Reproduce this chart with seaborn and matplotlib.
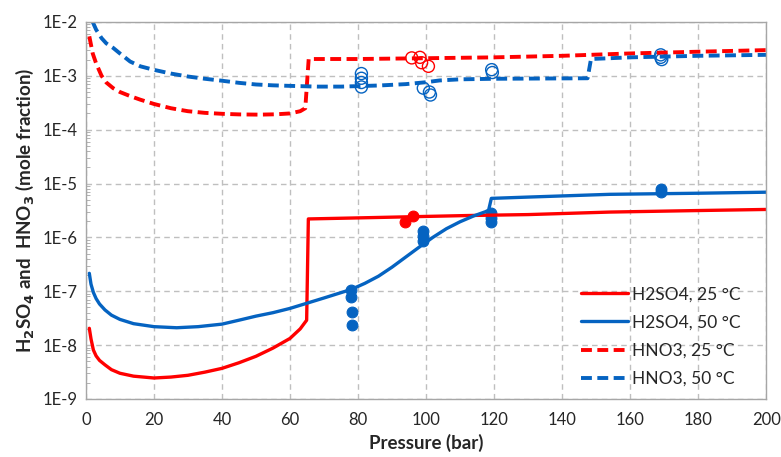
import math
import seaborn as sns
import matplotlib.pyplot as plt
from matplotlib.ticker import LogLocator, FixedLocator, FuncFormatter, NullFormatter

# model curves (pressure in bar, mole fraction)
h2so4_25_p = [1, 1.5, 2.2, 3, 4, 5.6, 7.5, 10, 14, 20, 25, 30, 35, 40, 45, 50, 55, 60, 63, 64.9,
              65.4, 80, 100, 113, 130, 154, 180, 200]
h2so4_25_y = [2.05e-8, 1.3e-8, 8.1e-9, 6.3e-9, 5.2e-9, 4.3e-9, 3.5e-9, 3.0e-9, 2.65e-9, 2.45e-9,
              2.55e-9, 2.75e-9, 3.15e-9, 3.7e-9, 4.7e-9, 6.2e-9, 8.8e-9, 1.33e-8, 2.0e-8, 2.9e-8,
              2.2e-6, 2.3e-6, 2.45e-6, 2.55e-6, 2.65e-6, 2.95e-6, 3.15e-6, 3.3e-6]

h2so4_50_p = [1, 1.5, 2.2, 3, 4, 5.6, 7.5, 10, 14, 20, 26.7, 33, 40, 45, 50, 55, 60, 65, 70, 74,
              78, 82, 86, 90, 94, 98, 102, 106, 110, 114, 117.5, 118.4, 119.2, 130, 154, 180, 200]
h2so4_50_y = [2.15e-7, 1.35e-7, 9.5e-8, 7.3e-8, 5.8e-8, 4.5e-8, 3.6e-8, 3.0e-8, 2.5e-8, 2.2e-8,
              2.1e-8, 2.2e-8, 2.45e-8, 2.9e-8, 3.45e-8, 4.0e-8, 4.8e-8, 6.0e-8, 7.5e-8, 9.0e-8,
              1.08e-7, 1.4e-7, 1.9e-7, 2.8e-7, 4.3e-7, 6.6e-7, 1.0e-6, 1.45e-6, 1.95e-6, 2.5e-6,
              3.0e-6, 3.2e-6, 5.3e-6, 5.6e-6, 6.3e-6, 6.6e-6, 6.9e-6]

hno3_25_p = [1, 2, 3, 4.6, 6, 8, 10, 13, 16, 20, 25, 30, 35, 40, 45, 51, 56, 60, 63, 64.5, 65.5,
             80, 100, 120, 140, 160, 180, 200]
hno3_25_y = [5.4e-3, 2.6e-3, 1.7e-3, 1.0e-3, 7.5e-4, 5.9e-4, 5.0e-4, 4.2e-4, 3.6e-4, 3.0e-4,
             2.5e-4, 2.2e-4, 2.05e-4, 1.97e-4, 1.92e-4, 1.9e-4, 1.93e-4, 2.0e-4, 2.2e-4, 2.5e-4,
             2.05e-3, 2.05e-3, 2.12e-3, 2.2e-3, 2.35e-3, 2.6e-3, 2.8e-3, 3.0e-3]

hno3_50_p = [2, 3, 4.6, 6, 8, 10, 13, 16, 20, 25, 30, 35, 40, 45, 50, 55, 60, 68, 75, 86, 94, 100,
             104, 110, 120, 147.5, 148.5, 160, 180, 200]
hno3_50_y = [1.0e-2, 7.2e-3, 5.0e-3, 4.0e-3, 3.3e-3, 2.6e-3, 1.84e-3, 1.5e-3, 1.29e-3, 1.1e-3,
             9.7e-4, 8.8e-4, 8.1e-4, 7.4e-4, 6.9e-4, 6.65e-4, 6.5e-4, 6.3e-4, 6.3e-4, 6.6e-4,
             7.0e-4, 7.6e-4, 8.2e-4, 8.6e-4, 8.8e-4, 9.0e-4, 2.05e-3, 2.2e-3, 2.35e-3, 2.45e-3]

# experimental points
exp_h2so4_25_p = [93.8, 96.2]
exp_h2so4_25_y = [1.95e-6, 2.45e-6]
exp_h2so4_50_p = [78, 78, 78.2, 78.3, 99, 99, 99.2, 119, 119, 119.2, 169, 169]
exp_h2so4_50_y = [1.05e-7, 7.8e-8, 4.1e-8, 2.4e-8, 1.3e-6, 1.05e-6, 8.5e-7, 2.8e-6, 2.3e-6, 1.9e-6,
                  7.0e-6, 8.0e-6]
exp_hno3_25_p = [95.8, 98.2, 98.7, 100.7]
exp_hno3_25_y = [2.15e-3, 2.2e-3, 1.75e-3, 1.5e-3]
exp_hno3_50_p = [81, 81, 81, 81, 99.2, 101, 101.3, 119.3, 119.5, 169, 169.3, 169]
exp_hno3_50_y = [1.1e-3, 9.0e-4, 7.5e-4, 6.2e-4, 5.9e-4, 5.0e-4, 4.4e-4, 1.3e-3, 1.15e-3, 2.45e-3,
                 2.0e-3, 2.2e-3]

RED = '#FF0000'
BLUE = '#0563C1'

sns.set_style('white')
plt.rcParams['font.family'] = ['Lato', 'DejaVu Sans']

fig = plt.figure(figsize=(7.81, 4.57), dpi=100)
ax = fig.add_axes([0.110, 0.127, 0.871, 0.825])

sns.lineplot(x=h2so4_25_p, y=h2so4_25_y, color=RED, lw=2.4, estimator=None,
             label='H2SO4, 25 °C', ax=ax)
sns.lineplot(x=h2so4_50_p, y=h2so4_50_y, color=BLUE, lw=2.4, estimator=None,
             label='H2SO4, 50 °C', ax=ax)
sns.lineplot(x=hno3_25_p, y=hno3_25_y, color=RED, lw=2.8, estimator=None,
             label='HNO3, 25 °C', ax=ax)
sns.lineplot(x=hno3_50_p, y=hno3_50_y, color=BLUE, lw=2.8, estimator=None,
             label='HNO3, 50 °C', ax=ax)
ax.lines[2].set_dashes([2.8, 1.4])
ax.lines[3].set_dashes([2.8, 1.4])

sns.scatterplot(x=exp_h2so4_25_p, y=exp_h2so4_25_y, color=RED, s=60, edgecolor=RED,
                linewidth=0.8, legend=False, ax=ax)
sns.scatterplot(x=exp_h2so4_50_p, y=exp_h2so4_50_y, color=BLUE, s=60, edgecolor=BLUE,
                linewidth=0.8, legend=False, ax=ax)
sns.scatterplot(x=exp_hno3_25_p, y=exp_hno3_25_y, facecolor='none', edgecolor=RED, s=75,
                linewidth=1.0, legend=False, ax=ax)
sns.scatterplot(x=exp_hno3_50_p, y=exp_hno3_50_y, facecolor='none', edgecolor=BLUE, s=75,
                linewidth=1.0, legend=False, ax=ax)

ax.set_yscale('log')
ax.set_xlim(0, 200)
ax.set_ylim(1e-9, 1e-2)
ax.xaxis.set_major_locator(FixedLocator(range(0, 201, 20)))
ax.yaxis.set_major_locator(LogLocator(base=10, numticks=20))
ax.yaxis.set_minor_locator(LogLocator(base=10, subs=range(2, 10), numticks=20))
ax.yaxis.set_major_formatter(FuncFormatter(lambda v, pos: '1E%d' % round(math.log10(v))))
ax.yaxis.set_minor_formatter(NullFormatter())
ax.xaxis.get_offset_text().set_visible(False)
ax.yaxis.get_offset_text().set_visible(False)

ax.grid(True, which='major', color='#BFBFBF', ls=(0, (4, 3)), lw=1.0)
for s in ax.spines.values():
    s.set_color('#A6A6A6')
    s.set_linewidth(1.0)
ax.tick_params(axis='both', which='major', labelsize=12, colors='#595959',
               labelcolor='#262626', length=5, direction='inout', width=1)
ax.tick_params(axis='y', which='minor', length=3, direction='in', colors='#A6A6A6', left=True)
ax.tick_params(axis='x', which='major', pad=7)

ax.set_xlabel('Pressure (bar)', fontsize=13.5, fontweight='bold', labelpad=4)
ax.set_ylabel('H$_\\mathbf{2}$SO$_\\mathbf{4}$ and  HNO$_\\mathbf{3}$ (mole fraction)',
              fontsize=13.5, fontweight='bold', labelpad=5)

ax.legend(loc='lower left', bbox_to_anchor=(0.71, 0.0), frameon=False, fontsize=12.5,
          handlelength=2.7, labelspacing=0.7, handletextpad=0.25, borderaxespad=0.3)

plt.savefig('out.png', dpi=100)
